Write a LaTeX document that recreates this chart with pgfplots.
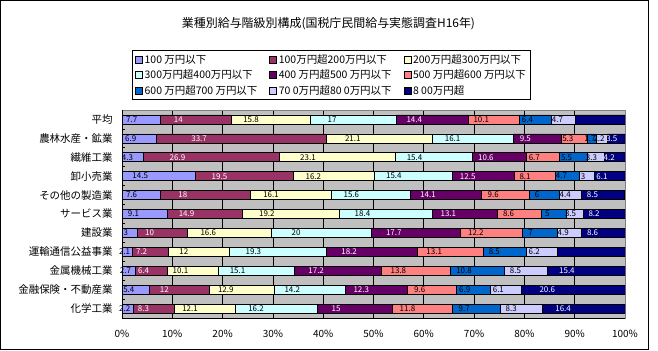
\documentclass[border=0pt]{standalone}
\usepackage{fontspec}
\setmainfont{Noto Sans CJK JP}
\usepackage{pgfplots}
\usepackage{pgfplotstable}
\pgfplotsset{compat=1.18}

\definecolor{s1}{HTML}{9999FF}
\definecolor{s2}{HTML}{993366}
\definecolor{s3}{HTML}{FFFFCC}
\definecolor{s4}{HTML}{CCFFFF}
\definecolor{s5}{HTML}{660066}
\definecolor{s6}{HTML}{FF8080}
\definecolor{s7}{HTML}{0066CC}
\definecolor{s8}{HTML}{CCCCFF}
\definecolor{s9}{HTML}{000080}
\definecolor{plotbg}{HTML}{C0C0C0}
\definecolor{frameg}{HTML}{808080}

\pgfplotstableread{
idx a b c d e f g h i
0 7.7 14 15.8 17 14.4 10.1 6.4 4.7 10
1 6.9 33.7 21.1 16.1 9.5 5.3 1.7 2.2 3.5
2 4.3 26.9 23.1 15.4 10.6 6.7 5.5 3.3 4.2
3 14.5 19.5 16.2 15.4 12.5 8.1 4.7 3 6.1
4 7.6 18 16.1 15.6 14.1 9.6 6 4.4 8.5
5 9.1 14.9 19.2 18.4 13.1 8.6 5 3.5 8.2
6 3 10 16.6 20 17.7 12.2 7 4.9 8.6
7 2.1 7.2 12 19.3 18.2 13.1 8.5 6.2 13.5
8 2.7 6.4 10.1 15.1 17.2 13.8 10.8 8.5 15.4
9 5.4 12 12.9 14.2 12.3 9.6 6.9 6.1 20.6
10 2.2 8.3 12.1 16.2 15 11.8 9.7 8.3 16.4
}\datatable

\pgfplotsset{
  seg/.style n args={3}{
    fill=#1, draw=black, line width=0.7bp,
    legend image code/.code={\draw[fill=#1, draw=black, line width=0.5bp] (0bp,-3.5bp) rectangle (7bp,3.5bp);},
    visualization depends on={\thisrow{#2} \as \val},
    nodes near coords={\pgfmathprintnumber{\val}},
    every node near coord/.append style={text=#3},
  }
}

\begin{document}
\begin{tikzpicture}
\useasboundingbox (0,0) rectangle (658bp,351bp);
\draw[black, line width=1bp] (0.5bp,1.5bp) rectangle (648bp,350.5bp);
\node[font=\fontsize{12}{14}\selectfont] at (328.5bp,327bp) {業種別給与階級別構成(国税庁民間給与実態調査H16年)};
\begin{axis}[
  at={(122bp,33bp)}, anchor=south west,
  scale only axis, width=503bp, height=208bp,
  xbar stacked, bar width=9bp,
  xmin=0, xmax=100, ymin=-0.5, ymax=10.5, y dir=reverse,
  axis background/.style={fill=plotbg},
  axis line style={frameg, line width=0.8bp},
  every node near coord/.append style={anchor=center, inner sep=0pt,
      font=\fontsize{8}{9}\selectfont, xshift={-1.2575bp*\val}},
  xtick={0,10,...,100},
  xticklabel={\pgfmathprintnumber{\tick}\%},
  xticklabel style={font=\fontsize{10}{12}\selectfont, yshift=-9bp},
  ytick={0,...,10},
  yticklabels={平均,農林水産・鉱業,繊維工業,卸小売業,その他の製造業,サービス業,建設業,運輸通信公益事業,金属機械工業,金融保険・不動産業,化学工業},
  yticklabel style={font=\fontsize{10.5}{12}\selectfont, xshift=-6bp},
  minor ytick={-0.5,0.5,...,10.5},
  major tick length=0pt, minor tick length=3bp,
  tick align=inside, tick style={black, line width=0.7bp},
  xtick pos=bottom, ytick pos=left,
  xmajorgrids=true,
  major grid style={black, line width=0.8bp},
  /pgf/number format/assume math mode=true,
  legend columns=3,
  legend cell align=left,
  legend style={at={(0.4165,1)}, anchor=south, yshift=10bp, draw=black, line width=0.8bp, fill=white,
    font=\fontsize{10.5}{12}\selectfont, inner xsep=3bp, inner ysep=2bp,
    /tikz/every even column/.append style={column sep=10bp},
    row sep=1bp},
]
\addplot[seg={s1}{a}{black}] table[x=a, y=idx] {\datatable};
\addplot[seg={s2}{b}{white}] table[x=b, y=idx] {\datatable};
\addplot[seg={s3}{c}{black}] table[x=c, y=idx] {\datatable};
\addplot[seg={s4}{d}{black}] table[x=d, y=idx] {\datatable};
\addplot[seg={s5}{e}{white}] table[x=e, y=idx] {\datatable};
\addplot[seg={s6}{f}{black}] table[x=f, y=idx] {\datatable};
\addplot[seg={s7}{g}{black}] table[x=g, y=idx] {\datatable};
\addplot[seg={s8}{h}{black}] table[x=h, y=idx] {\datatable};
\addplot[seg={s9}{i}{white}] table[x=i, y=idx] {\datatable};
\legend{100 万円以下,100万円超200万円以下,200万円超300万円以下,300万円超400万円以下,400 万円超500 万円以下,500 万円超600 万円以下,600 万円超700 万円以下,70 0万円超80 0万円以下,8 00万円超}
\draw[black, line width=0.8bp] (axis cs:0,-0.5) -- (axis cs:0,10.5) -- (axis cs:100,10.5);
\end{axis}
\end{tikzpicture}
\end{document}
